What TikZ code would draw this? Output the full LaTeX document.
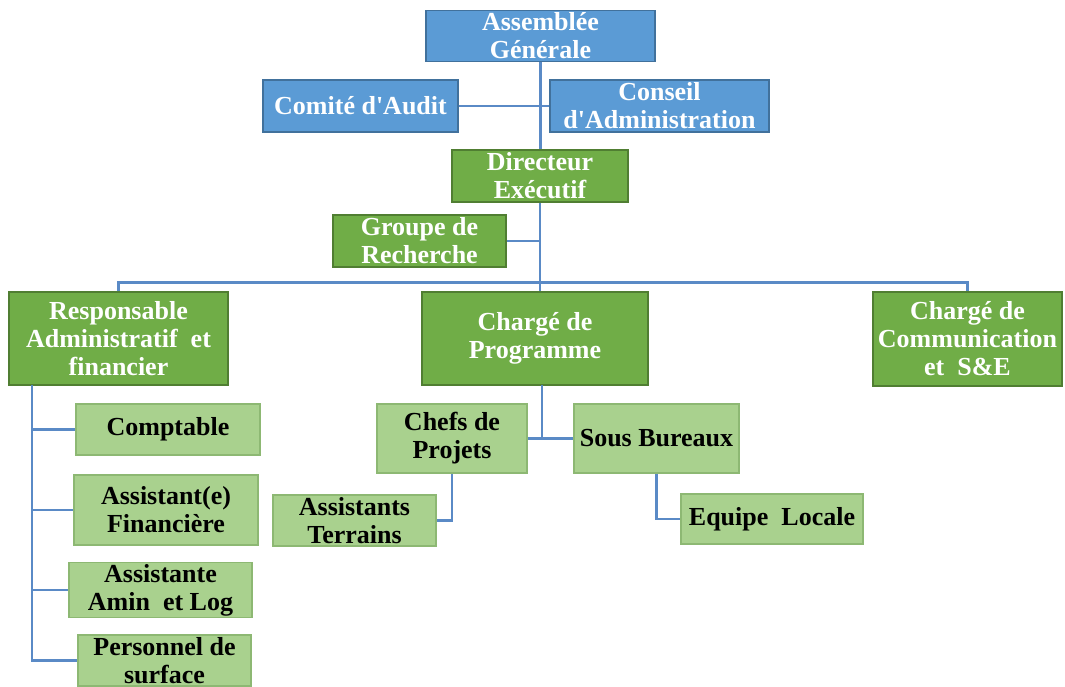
\documentclass[tikz,border=0pt]{standalone}
\usepackage{fontspec}
\setmainfont{Liberation Serif}
\definecolor{bleuF}{HTML}{5B9BD5}
\definecolor{bleuD}{HTML}{41719C}
\definecolor{vertF}{HTML}{70AD47}
\definecolor{vertD}{HTML}{507E32}
\definecolor{clairF}{HTML}{A9D18E}
\definecolor{clairD}{HTML}{8DB873}
\definecolor{lienC}{HTML}{5A8AC6}

\begin{document}
\begin{tikzpicture}[x=0.5pt, y=-0.5pt, font=\bfseries\fontsize{13}{14}\selectfont,
    box/.style 2 args={minimum width=#1*0.5pt, minimum height=#2*0.5pt, inner sep=1pt, align=center, line width=0.6pt},
    bleu/.style={draw=bleuD, fill=bleuF, text=white},
    vert/.style={draw=vertD, fill=vertF, text=white},
    clair/.style={draw=clairD, fill=clairF, text=black},
    lien/.style={draw=lienC, line width=1.1pt}]

    \useasboundingbox[fill=white] (0,0) rectangle (1065,686);

    \coordinate (rafl) at (32,385);
    \coordinate (cpl) at (542,385);

    \node[box={229}{50}, bleu] (ag) at (540.5,36) {Assemblée\\Générale};
    \node[box={195}{52}, bleu] (audit) at (360.5,106) {Comité d\textquotesingle Audit};
    \node[box={219}{52}, bleu] (conseil) at (659.5,106) {Conseil\\d\textquotesingle Administration};
    \node[box={176}{52}, vert] (dir) at (540,176) {Directeur\\Exécutif};
    \node[box={173}{52}, vert] (grp) at (419.5,241) {Groupe de\\Recherche};

    \node[box={219}{93}, vert] (raf) at (118.5,338.5) {Responsable\\Administratif\ \ et\\financier};
    \node[box={226}{93}, vert] (cp) at (535,338.5) {Chargé de\\Programme};
    \node[box={189}{94}, vert] (com) at (967.5,339) {Chargé de\\Communication\\et\ \ S\&E};

    \node[box={184}{51}, clair] (cpt) at (168,429.5) {Comptable};
    \node[box={184}{70}, clair] (asf) at (166,510) {Assistant(e)\\Financière};
    \node[box={183}{52}, clair] (aal) at (160.5,590) {Assistante\\Amin\ \ et Log};
    \node[box={173}{51}, clair] (pds) at (164.5,660.5) {Personnel de\\surface};

    \node[box={150}{69}, clair] (cdp) at (452,438.5) {Chefs de\\Projets};
    \node[box={165}{69}, clair] (sb) at (656.5,438.5) {Sous Bureaux};
    \node[box={163}{51}, clair] (at) at (354.5,520.5) {Assistants\\Terrains};
    \node[box={182}{50}, clair] (el) at (772,519) {Equipe\ \ Locale};

    \path[lien]
        (ag.south) -- (ag.south |- dir.north)
        (audit.east) -- (conseil.west)
        (dir.south) -- (dir.south |- cp.north)
        (grp.east) -- (grp.east -| dir.south)
        (raf.north) -- ++(0,-9) -| (com.north)
        (rafl) |- (pds.west)
        (rafl |- cpt.west) -- (cpt.west)
        (rafl |- asf.west) -- (asf.west)
        (rafl |- aal.west) -- (aal.west)
        (cpl) -- (cpl |- cdp.east)
        (cdp.east) -- (sb.west)
        (cdp.south) |- (at.east)
        (sb.south) |- (el.west)
        ;
\end{tikzpicture}
\end{document}
